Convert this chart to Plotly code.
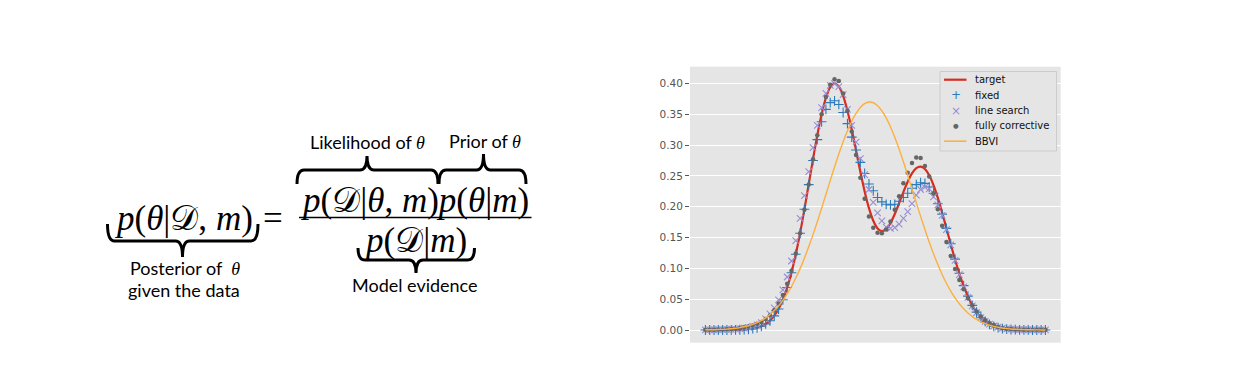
import plotly.graph_objects as go

W, H = 1248, 381

# ---------------- data ----------------
x_idx = list(range(80))

target = [0.0000, 0.0000, 0.0000, 0.0000, 0.0000, 0.0000, 0.0001, 0.0002, 0.0004, 0.0007,
          0.0012, 0.0021, 0.0036, 0.0060, 0.0097, 0.0152, 0.0232, 0.0343, 0.0493, 0.0688,
          0.0934, 0.1230, 0.1574, 0.1958, 0.2364, 0.2773, 0.3161, 0.3501, 0.3766, 0.3937,
          0.4000, 0.3953, 0.3799, 0.3559, 0.3253, 0.2913, 0.2568, 0.2249, 0.1977, 0.1774,
          0.1649, 0.1605, 0.1638, 0.1735, 0.1882, 0.2057, 0.2239, 0.2407, 0.2542, 0.2627,
          0.2652, 0.2613, 0.2510, 0.2349, 0.2143, 0.1905, 0.1650, 0.1392, 0.1145, 0.0917,
          0.0715, 0.0544, 0.0403, 0.0291, 0.0204, 0.0140, 0.0093, 0.0061, 0.0038, 0.0024,
          0.0014, 0.0008, 0.0005, 0.0003, 0.0001, 0.0001, 0.0000, 0.0000, 0.0000, 0.0000]

fixed = [0.0000, 0.0000, 0.0000, 0.0000, 0.0000, 0.0000, 0.0001, 0.0002, 0.0004, 0.0007,
         0.0012, 0.0021, 0.0036, 0.0060, 0.0100, 0.0150, 0.0230, 0.0340, 0.0490, 0.0690,
         0.0930, 0.1230, 0.1570, 0.1960, 0.2360, 0.2750, 0.3090, 0.3380, 0.3580, 0.3690,
         0.3720, 0.3660, 0.3530, 0.3350, 0.3130, 0.2920, 0.2720, 0.2540, 0.2370, 0.2260,
         0.2150, 0.2080, 0.2040, 0.2030, 0.2040, 0.2090, 0.2150, 0.2220, 0.2300, 0.2360,
         0.2390, 0.2380, 0.2320, 0.2220, 0.2050, 0.1880, 0.1650, 0.1400, 0.1150, 0.0920,
         0.0720, 0.0550, 0.0400, 0.0290, 0.0200, 0.0140, 0.0090, 0.0060, 0.0040, 0.0024,
         0.0014, 0.0008, 0.0005, 0.0003, 0.0001, 0.0001, 0.0000, 0.0000, 0.0000, 0.0000]

line_search = [0.0002, 0.0003, 0.0004, 0.0005, 0.0007, 0.0009, 0.0012, 0.0016, 0.0022, 0.0030,
               0.0042, 0.0060, 0.0085, 0.0120, 0.0180, 0.0260, 0.0360, 0.0490, 0.0650, 0.0860,
               0.1120, 0.1450, 0.1810, 0.2180, 0.2570, 0.2960, 0.3320, 0.3610, 0.3840, 0.3970,
               0.4000, 0.3950, 0.3820, 0.3580, 0.3320, 0.3050, 0.2780, 0.2520, 0.2280, 0.2070,
               0.1900, 0.1770, 0.1670, 0.1650, 0.1660, 0.1720, 0.1810, 0.1920, 0.2050, 0.2190,
               0.2280, 0.2320, 0.2290, 0.2160, 0.2030, 0.1860, 0.1630, 0.1380, 0.1130, 0.0900,
               0.0700, 0.0530, 0.0390, 0.0280, 0.0200, 0.0140, 0.0095, 0.0065, 0.0045, 0.0030,
               0.0020, 0.0014, 0.0010, 0.0007, 0.0005, 0.0004, 0.0003, 0.0002, 0.0002, 0.0001]

fully_corrective = [0.0003, 0.0004, 0.0005, 0.0007, 0.0009, 0.0012, 0.0016, 0.0022, 0.0030, 0.0040,
                    0.0055, 0.0075, 0.0100, 0.0130, 0.0180, 0.0240, 0.0320, 0.0430, 0.0570, 0.0750,
                    0.0960, 0.1240, 0.1570, 0.1950, 0.2360, 0.2770, 0.3160, 0.3500, 0.3780, 0.3980,
                    0.4070, 0.4040, 0.3840, 0.3560, 0.3220, 0.2840, 0.2470, 0.2130, 0.1840, 0.1660,
                    0.1580, 0.1570, 0.1630, 0.1760, 0.1950, 0.2170, 0.2380, 0.2550, 0.2710, 0.2800,
                    0.2790, 0.2660, 0.2490, 0.2220, 0.1960, 0.1690, 0.1430, 0.1200, 0.0990, 0.0810,
                    0.0660, 0.0520, 0.0400, 0.0300, 0.0220, 0.0160, 0.0110, 0.0080, 0.0050, 0.0030,
                    0.0020, 0.0015, 0.0010, 0.0007, 0.0005, 0.0003, 0.0003, 0.0003, 0.0003, 0.0003]

bbvi = [0.0003, 0.0004, 0.0005, 0.0008, 0.0011, 0.0015, 0.0021, 0.0028, 0.0039, 0.0052,
        0.0069, 0.0092, 0.0120, 0.0155, 0.0198, 0.0251, 0.0315, 0.0391, 0.0481, 0.0586,
        0.0706, 0.0843, 0.0996, 0.1166, 0.1350, 0.1548, 0.1758, 0.1977, 0.2200, 0.2424,
        0.2644, 0.2856, 0.3054, 0.3233, 0.3388, 0.3515, 0.3612, 0.3673, 0.3699, 0.3688,
        0.3640, 0.3558, 0.3442, 0.3297, 0.3127, 0.2936, 0.2729, 0.2512, 0.2289, 0.2065,
        0.1844, 0.1631, 0.1428, 0.1238, 0.1062, 0.0902, 0.0759, 0.0632, 0.0521, 0.0426,
        0.0344, 0.0275, 0.0218, 0.0171, 0.0133, 0.0102, 0.0078, 0.0058, 0.0044, 0.0032,
        0.0024, 0.0017, 0.0012, 0.0009, 0.0006, 0.0004, 0.0003, 0.0002, 0.0001, 0.0001]

y_ticks = [0.00, 0.05, 0.10, 0.15, 0.20, 0.25, 0.30, 0.35, 0.40]
series_names = ["target", "fixed", "line search", "fully corrective", "BBVI"]

# ---------------- styling ----------------
C_TARGET = "#d62d20"
C_FIXED = "#2b7bba"
C_LINE = "#988ED5"
C_FULLY = "#666666"
C_BBVI = "#FBB040"

fig = go.Figure()
fig.add_trace(go.Scatter(x=x_idx, y=target, mode="lines", name=series_names[0],
                         line=dict(color=C_TARGET, width=2.2, shape="spline")))
fig.add_trace(go.Scatter(x=x_idx, y=fixed, mode="markers", name=series_names[1],
                         marker=dict(symbol="cross-thin", size=7, color=C_FIXED,
                                     line=dict(width=1.1, color=C_FIXED))))
fig.add_trace(go.Scatter(x=x_idx, y=line_search, mode="markers", name=series_names[2],
                         marker=dict(symbol="x-thin", size=6.5, color=C_LINE,
                                     line=dict(width=1.1, color=C_LINE))))
fig.add_trace(go.Scatter(x=x_idx, y=fully_corrective, mode="markers", name=series_names[3],
                         marker=dict(symbol="circle", size=4.5, color=C_FULLY, line=dict(width=0))))
fig.add_trace(go.Scatter(x=x_idx, y=bbvi, mode="lines", name=series_names[4],
                         line=dict(color=C_BBVI, width=1.4, shape="spline")))

X = lambda px: px / W
Y = lambda py: 1 - py / H

fig.update_layout(
    width=W, height=H,
    margin=dict(l=0, r=0, t=0, b=0),
    paper_bgcolor="white",
    plot_bgcolor="#E5E5E5",
    showlegend=False,
    xaxis=dict(domain=[X(690), X(1060.7)], range=[-3.58, 82.55],
               showticklabels=False, showgrid=False, zeroline=False, ticks=""),
    yaxis=dict(domain=[Y(342.7), Y(66.7)], range=[-0.0206, 0.4273],
               tickvals=y_ticks, tickformat=".2f", ticks="outside", ticklen=4,
               tickcolor="#555555", tickwidth=1,
               tickfont=dict(family="DejaVu Sans", size=10.5, color="#555555"),
               showgrid=True, gridcolor="white", gridwidth=1.3, zeroline=False),
)


def text(px, py, s, size, family, xanchor="center", color="black"):
    fig.add_annotation(x=X(px), y=Y(py), xref="paper", yref="paper", text=s,
                       showarrow=False, xanchor=xanchor, yanchor="middle",
                       font=dict(family=family, size=size, color=color))


# ---------------- legend (matplotlib-like box) ----------------
fig.add_shape(type="rect", xref="paper", yref="paper", layer="above",
              x0=X(940), x1=X(1056.5), y0=Y(151), y1=Y(71.5),
              fillcolor="#E5E5E5", line=dict(color="#CCCCCC", width=1))
LEG_Y = [79.7, 95.2, 110.5, 125.8, 141.2]
LEG_FONT = "DejaVu Sans"
for name, yy in zip(series_names, LEG_Y):
    text(973.5, yy, name, 10, LEG_FONT, xanchor="left", color="#111111")
fig.add_shape(type="line", xref="paper", yref="paper", layer="above",
              x0=X(944), x1=X(966.5), y0=Y(LEG_Y[0]), y1=Y(LEG_Y[0]),
              line=dict(color=C_TARGET, width=2.2))
fig.add_shape(type="line", xref="paper", yref="paper", layer="above",
              x0=X(944), x1=X(966.5), y0=Y(LEG_Y[4]), y1=Y(LEG_Y[4]),
              line=dict(color=C_BBVI, width=1.6))
text(956.3, LEG_Y[1], "+", 12, "DejaVu Sans", color=C_FIXED)
text(956.3, LEG_Y[2], "×", 12, "DejaVu Sans", color=C_LINE)
text(956.3, LEG_Y[3], "●", 6.5, "DejaVu Sans", color=C_FULLY)

# ---------------- formula (left panel) ----------------
MATH = "Liberation Serif"
SANS = "Lato"

D = "𝒟"
text(183.5, 218, f"<i>p</i>(<i>θ</i>|{D}, <i>m</i>)", 35, MATH)
text(273, 218, "=", 35, MATH)
text(414, 200, f"<i>p</i>({D}|<i>θ</i>, <i>m</i>)<i>p</i>(<i>θ</i>|<i>m</i>)", 35, MATH)
text(415, 241, f"<i>p</i>({D}|<i>m</i>)", 35, MATH)

theta = '<span style="font-family:Liberation Serif"><i>θ</i></span>'
text(367.5, 142, f"Likelihood of {theta}", 18, SANS)
text(485, 141, f"Prior of {theta}", 18, SANS)
text(185, 268, f"Posterior of  {theta}", 18, SANS)
text(184, 290, "given the data", 18, SANS)
text(415, 285, "Model evidence", 18, SANS)

# fraction bar
fig.add_shape(type="line", xref="paper", yref="paper",
              x0=X(299), x1=X(531.5), y0=Y(217.5), y1=Y(217.5),
              line=dict(color="black", width=1.6))


def brace(x1, x2, xm, yend, yline, ytip, r=7):
    p = (f"M {X(x1)},{Y(yend)} Q {X(x1)},{Y(yline)} {X(x1 + r)},{Y(yline)} "
         f"L {X(xm - r)},{Y(yline)} Q {X(xm)},{Y(yline)} {X(xm)},{Y(ytip)} "
         f"Q {X(xm)},{Y(yline)} {X(xm + r)},{Y(yline)} "
         f"L {X(x2 - r)},{Y(yline)} Q {X(x2)},{Y(yline)} {X(x2)},{Y(yend)}")
    fig.add_shape(type="path", xref="paper", yref="paper", path=p,
                  line=dict(color="black", width=3))


brace(297, 438, 367, 184, 170, 156)
brace(439, 526, 483.5, 184, 170, 154)
brace(107.5, 258, 182.5, 224, 241, 257)
brace(358, 474.5, 416, 248, 260, 273)

fig.write_html("out.html", config={"displayModeBar": False},
               post_script="document.body.style.margin='0';document.body.style.overflow='hidden';")
